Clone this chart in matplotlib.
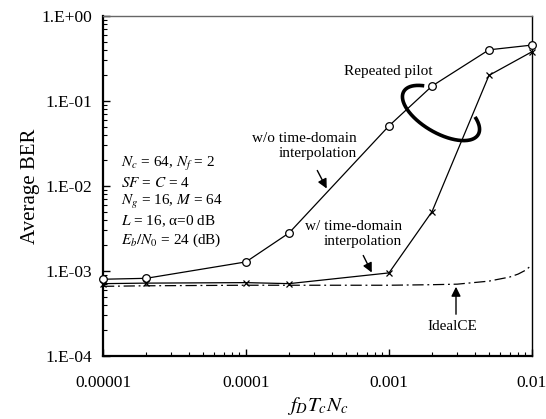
import numpy as np
import matplotlib
matplotlib.use("Agg")
import matplotlib.pyplot as plt
from matplotlib.ticker import FixedLocator, FixedFormatter, LogLocator, NullFormatter

plt.rcParams['font.family'] = ['Liberation Serif', 'DejaVu Serif']
plt.rcParams['mathtext.fontset'] = 'stix'

# data
fd = [1e-5, 2e-5, 1e-4, 2e-4, 1e-3, 2e-3, 5e-3, 1e-2]
ber_wo_interp = [8.0e-4, 8.2e-4, 1.28e-3, 2.8e-3, 5.1e-2, 0.15, 0.40, 0.455]
ber_w_interp = [7.1e-4, 7.2e-4, 7.3e-4, 7.1e-4, 9.5e-4, 5.0e-3, 0.20, 0.38]

fd_ideal = [1e-5, 2e-5, 1e-4, 2e-4, 1e-3, 2e-3, 3e-3, 5e-3, 7e-3, 8e-3, 9e-3, 1e-2]
ber_ideal = [6.6e-4, 6.7e-4, 6.8e-4, 6.8e-4, 6.8e-4, 6.9e-4, 7.0e-4, 7.6e-4, 8.5e-4, 9.2e-4, 1.02e-3, 1.18e-3]

yticks = [1e-4, 1e-3, 1e-2, 1e-1, 1e0]
ytick_labels = ['1.E-04', '1.E-03', '1.E-02', '1.E-01', '1.E+00']
xticks = [1e-5, 1e-4, 1e-3, 1e-2]
xtick_labels = ['0.00001', '0.0001', '0.001', '0.01']

params = [r'$N_c$ = 64, $N_f$ = 2',
          r'$SF$ = $C$ = 4',
          r'$N_g$ = 16, $M$ = 64',
          r'$L$ = 16, α=0 dB',
          r'$E_b/N_0$ = 24 (dB)']

W, H = 546, 419
fig = plt.figure(figsize=(W / 100, H / 100), dpi=100)
ax = fig.add_axes([103 / W, 1 - 356 / H, (532 - 103) / W, (356 - 16) / H])


def fp(x, y):
    # pixel position (top-left origin) -> figure pixels
    return (x, H - y)


ax.plot(fd, ber_wo_interp, color='k', lw=0.9, marker='o', ms=5.5,
        mfc='white', mec='k', mew=0.9, clip_on=False, zorder=3)
ax.plot(fd, ber_w_interp, color='k', lw=0.9, marker='x', ms=5,
        mew=0.9, clip_on=False, zorder=3)
ax.plot(fd_ideal, ber_ideal, color='k', lw=0.9, ls=(0, (9, 3, 1.5, 3)),
        clip_on=False, zorder=2)

ax.set_xscale('log')
ax.set_yscale('log')
ax.set_xlim(1e-5, 1e-2)
ax.set_ylim(1e-4, 1e0)

ax.yaxis.set_major_locator(FixedLocator(yticks))
ax.yaxis.set_major_formatter(FixedFormatter(ytick_labels))
ax.yaxis.set_minor_locator(LogLocator(base=10, subs=np.arange(2, 10)))
ax.yaxis.set_minor_formatter(NullFormatter())
ax.xaxis.set_major_locator(FixedLocator(xticks))
ax.xaxis.set_major_formatter(FixedFormatter(xtick_labels))
ax.xaxis.set_minor_locator(LogLocator(base=10, subs=np.arange(2, 10)))
ax.xaxis.set_minor_formatter(NullFormatter())

ax.tick_params(which='both', direction='in', top=False, right=False, labelsize=12.5)
ax.tick_params(which='major', length=5, width=1)
ax.tick_params(which='minor', length=3, width=0.8)
ax.tick_params(axis='x', pad=14)
ax.tick_params(axis='y', pad=8)
for s in ['left', 'bottom']:
    ax.spines[s].set_linewidth(1.6)
for s in ['top', 'right']:
    ax.spines[s].set_linewidth(1.0)
ax.spines['top'].set_color('#666666')

fig.text(30 / W, 1 - 186 / H, 'Average BER', rotation=90, fontsize=15,
         ha='center', va='center')
fig.text(318 / W, 1 - 406 / H, r'$f_D T_c N_c$', fontsize=15,
         ha='center', va='center')

# parameter block
for i, line in enumerate(params):
    fig.text(121 / W, 1 - (164 + i * 19) / H, line, fontsize=11,
             ha='left', va='center')

# annotations
ax.annotate('Repeated pilot', xy=fp(388, 71), xycoords='figure pixels',
            ha='center', va='center', fontsize=11)
ax.annotate('w/o time-domain\ninterpolation', xy=fp(357, 146),
            xycoords='figure pixels', ha='right', va='center',
            fontsize=11, linespacing=1.2)
ax.annotate('', xy=fp(328, 191), xytext=fp(316, 168), xycoords='figure pixels',
            arrowprops=dict(arrowstyle='-|>', color='k', lw=1, mutation_scale=14))
ax.annotate('w/ time-domain\ninterpolation', xy=fp(402, 234),
            xycoords='figure pixels', ha='right', va='center',
            fontsize=11, linespacing=1.2)
ax.annotate('', xy=fp(373, 275), xytext=fp(362, 253), xycoords='figure pixels',
            arrowprops=dict(arrowstyle='-|>', color='k', lw=1, mutation_scale=14))
ax.annotate('IdealCE', xy=fp(452, 326), xycoords='figure pixels',
            ha='center', va='center', fontsize=11)
ax.annotate('', xy=fp(456, 284), xytext=fp(456, 317), xycoords='figure pixels',
            arrowprops=dict(arrowstyle='-|>', color='k', lw=1, mutation_scale=14))

# open ellipse around the crossing lines
t = np.linspace(-0.75, 4.0, 200)
th = np.deg2rad(30)
a, b = 43, 20
ex = 441 + a * np.cos(t) * np.cos(th) - b * np.sin(t) * np.sin(th)
ey = 113 + a * np.cos(t) * np.sin(th) + b * np.sin(t) * np.cos(th)
fig.add_artist(plt.Line2D(ex / W, 1 - ey / H, transform=fig.transFigure,
                          color='k', lw=2.6, solid_capstyle='butt'))

fig.savefig('out.png', dpi=100)
